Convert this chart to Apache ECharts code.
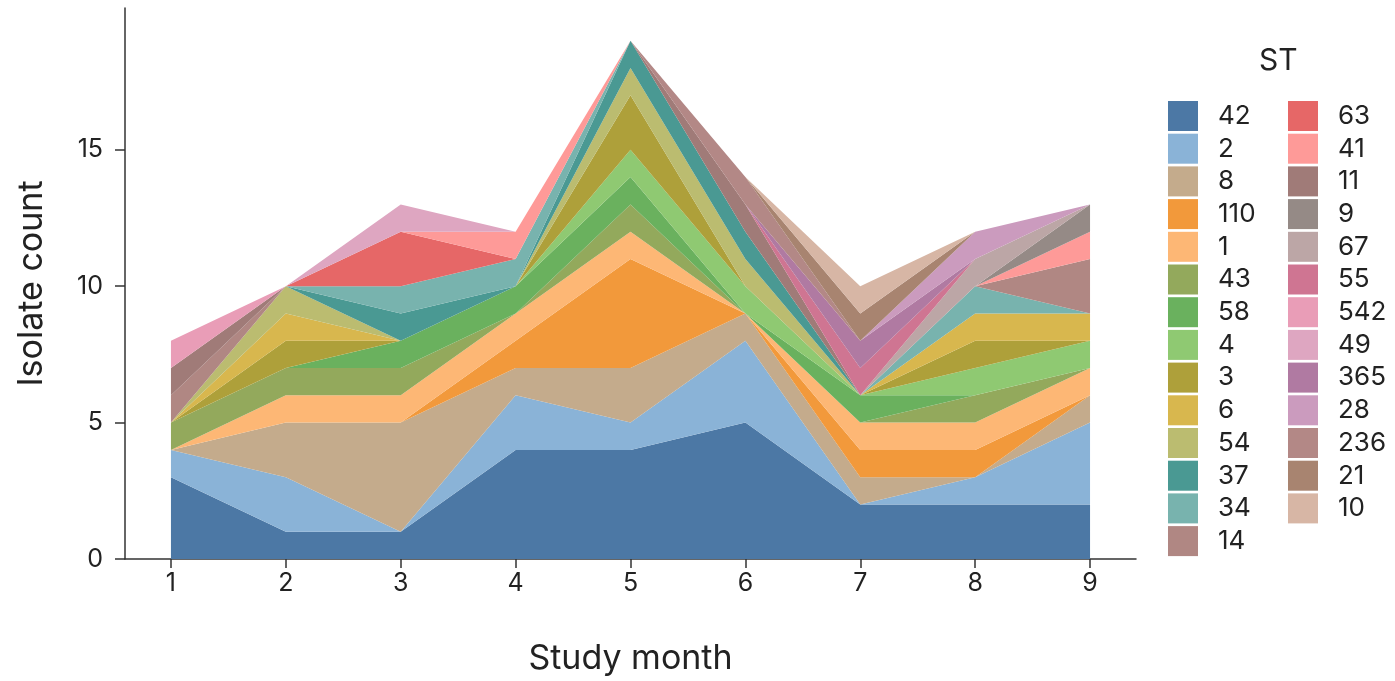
<!DOCTYPE html>
<html>
<head>
<meta charset="utf-8">
<script src="https://cdn.jsdelivr.net/npm/echarts@6/dist/echarts.min.js"></script>
<style>
  html, body { margin: 0; padding: 0; background: #ffffff; }
  #chart { width: 1395px; height: 681px; }
</style>
</head>
<body>
<div id="chart"></div>
<script>
// Study months on the x axis and tick values on both axes
const months = [1, 2, 3, 4, 5, 6, 7, 8, 9];
const monthTicks = [1, 2, 3, 4, 5, 6, 7, 8, 9];
const countTicks = [0, 5, 10, 15];

// Isolate counts per sequence type (ST), one value per study month
const st42  = [3, 1, 1, 4, 4, 5, 2, 2, 2];
const st2   = [1, 2, 0, 2, 1, 3, 0, 1, 3];
const st8   = [0, 2, 4, 1, 2, 1, 1, 0, 1];
const st110 = [0, 0, 0, 1, 4, 0, 1, 1, 0];
const st1   = [0, 1, 1, 1, 1, 0, 1, 1, 1];
const st43  = [1, 1, 1, 0, 1, 0, 0, 1, 0];
const st58  = [0, 0, 1, 1, 1, 0, 1, 0, 0];
const st4   = [0, 0, 0, 0, 1, 1, 0, 1, 1];
const st3   = [0, 1, 0, 0, 2, 0, 0, 1, 0];
const st6   = [0, 1, 0, 0, 0, 0, 0, 1, 1];
const st54  = [0, 1, 0, 0, 1, 1, 0, 0, 0];
const st37  = [0, 0, 1, 0, 1, 1, 0, 0, 0];
const st34  = [0, 0, 1, 1, 0, 0, 0, 1, 0];
const st14  = [1, 0, 0, 0, 0, 0, 0, 0, 2];
const st63  = [0, 0, 2, 0, 0, 0, 0, 0, 0];
const st41  = [0, 0, 0, 1, 0, 0, 0, 0, 1];
const st11  = [1, 0, 0, 0, 0, 1, 0, 0, 0];
const st9   = [0, 0, 0, 0, 0, 0, 0, 0, 1];
const st67  = [0, 0, 0, 0, 0, 0, 0, 1, 0];
const st55  = [0, 0, 0, 0, 0, 0, 1, 0, 0];
const st542 = [1, 0, 0, 0, 0, 0, 0, 0, 0];
const st49  = [0, 0, 1, 0, 0, 0, 0, 0, 0];
const st365 = [0, 0, 0, 0, 0, 0, 1, 0, 0];
const st28  = [0, 0, 0, 0, 0, 0, 0, 1, 0];
const st236 = [0, 0, 0, 0, 0, 1, 0, 0, 0];
const st21  = [0, 0, 0, 0, 0, 0, 1, 0, 0];
const st10  = [0, 0, 0, 0, 0, 0, 1, 0, 0];

// Stacking order, bottom to top
const stNames = ['42', '2', '8', '110', '1', '43', '58', '4', '3', '6', '54', '37', '34', '14',
                 '63', '41', '11', '9', '67', '55', '542', '49', '365', '28', '236', '21', '10'];
const stValues = [st42, st2, st8, st110, st1, st43, st58, st4, st3, st6, st54, st37, st34, st14,
                  st63, st41, st11, st9, st67, st55, st542, st49, st365, st28, st236, st21, st10];

const stColors = ['#4c78a5', '#8ab3d7', '#c4ab8c', '#f2993b', '#fdb775', '#93a95c', '#6ab15e',
                  '#8fc972', '#aea03a', '#d8b74e', '#bbbc70', '#4a9993', '#78b3ae', '#b08783',
                  '#e66767', '#fe9a98', '#a07b78', '#958a86', '#bca6a6', '#cf7592', '#e99db7',
                  '#dea6c1', '#b07aa2', '#cb9bbe', '#b38886', '#a88470', '#d7b6a5'];

const FONT = 'Inter, "DejaVu Sans", sans-serif';
const INK = '#222222';

// Each point is [count, month]; the count comes first so the stack accumulates counts
const series = stNames.map((name, k) => ({
  name: name,
  type: 'line',
  stack: 'isolates',
  encode: { x: 1, y: 0 },
  data: months.map((m, i) => [stValues[k][i], m]),
  symbol: 'none',
  showSymbol: false,
  lineStyle: { width: 0, color: stColors[k] },
  itemStyle: { color: stColors[k] },
  areaStyle: { color: stColors[k], opacity: 1 },
  emphasis: { disabled: true },
  silent: true
}));

const legendBase = {
  orient: 'vertical',
  top: 101,
  icon: 'rect',
  itemWidth: 30,
  itemHeight: 30,
  itemGap: 2.7,
  padding: 0,
  selectedMode: false,
  textStyle: { fontFamily: FONT, fontSize: 26, color: INK, padding: [0, 0, 0, 15] }
};

const chart = echarts.init(document.getElementById('chart'), null, { renderer: 'canvas' });
chart.setOption({
  animation: false,
  backgroundColor: '#ffffff',
  title: {
    text: 'ST',
    left: 1259,
    top: 46,
    padding: 0,
    textStyle: { fontFamily: FONT, fontSize: 30, fontWeight: 'normal', color: INK }
  },
  legend: [
    Object.assign({}, legendBase, { left: 1168, data: stNames.slice(0, 14) }),
    Object.assign({}, legendBase, { left: 1288, data: stNames.slice(14) })
  ],
  grid: { left: 125, right: 259, top: 8, bottom: 120, containLabel: false },
  xAxis: {
    type: 'value',
    min: 0.6,
    max: 9.4,
    name: 'Study month',
    nameLocation: 'middle',
    nameGap: 83,
    nameTextStyle: { fontFamily: FONT, fontSize: 34, color: INK },
    splitLine: { show: false },
    axisLine: { show: true, lineStyle: { color: '#333333', width: 1.5 } },
    axisTick: { show: true, length: 9, customValues: monthTicks, lineStyle: { color: '#333333', width: 1.5 } },
    axisLabel: { customValues: monthTicks, fontFamily: FONT, fontSize: 25, color: INK, margin: 12 }
  },
  yAxis: {
    type: 'value',
    min: 0,
    max: 20.2,
    name: 'Isolate count',
    nameLocation: 'middle',
    nameGap: 76,
    nameTextStyle: { fontFamily: FONT, fontSize: 34, color: INK },
    splitLine: { show: false },
    axisLine: { show: true, lineStyle: { color: '#333333', width: 1.5 } },
    axisTick: { show: true, length: 10, customValues: countTicks, lineStyle: { color: '#333333', width: 1.5 } },
    axisLabel: { customValues: countTicks, fontFamily: FONT, fontSize: 25, color: INK, margin: 22 }
  },
  series: series
});
</script>
</body>
</html>
